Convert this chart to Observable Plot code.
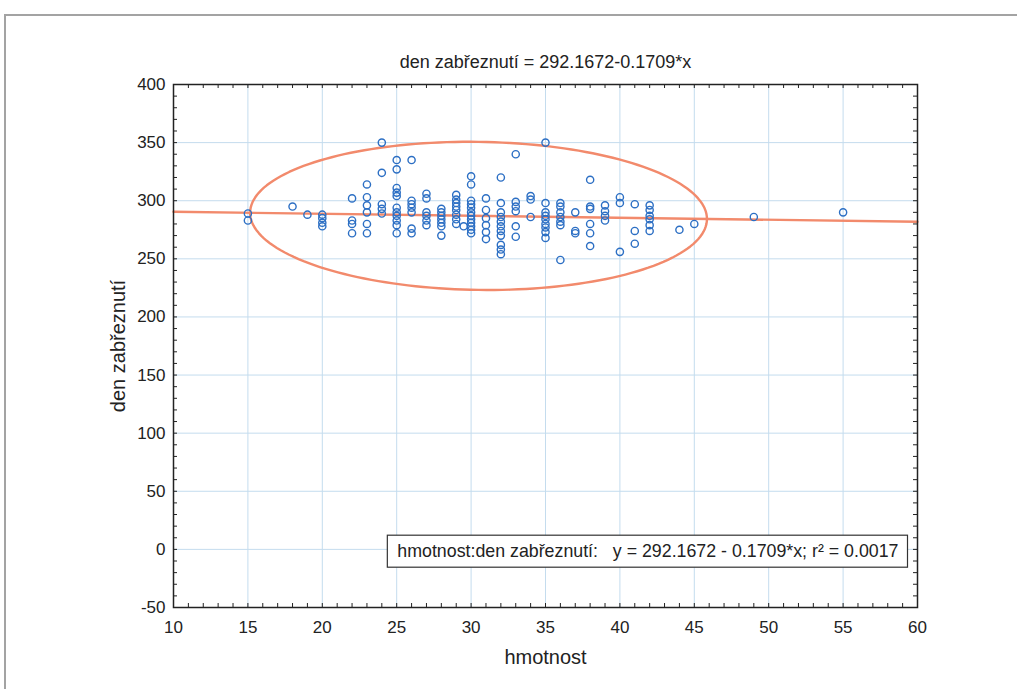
<!DOCTYPE html>
<html>
<head>
<meta charset="utf-8">
<script src="https://cdn.jsdelivr.net/npm/d3@7"></script>
<script src="https://cdn.jsdelivr.net/npm/@observablehq/plot@0.6"></script>
<style>
  html, body { margin: 0; padding: 0; background: #fff; overflow: hidden; }
  #wrap { position: relative; width: 1017px; height: 689px; }
  #border { position: absolute; left: 4px; top: 14px; width: 1100px; height: 800px;
            border: 2px solid #a3a3a3; box-sizing: border-box; }
  #chart { position: absolute; left: 0; top: 0; }
  svg text { font-family: "Liberation Sans", Arial, sans-serif; }
</style>
</head>
<body>
<div id="wrap"><div id="border"></div><div id="chart"></div></div>
<script>
// Body weight (hmotnost) and day of conception (den zabřeznutí), one entry per animal
const hmotnost = [
  15, 15,
  18,
  19,
  20, 20, 20, 20,
  22, 22, 22, 22,
  23, 23, 23, 23, 23, 23,
  24, 24, 24, 24, 24,
  25, 25, 25, 25, 25, 25, 25, 25, 25, 25, 25,
  26, 26, 26, 26, 26, 26, 26,
  27, 27, 27, 27, 27, 27,
  28, 28, 28, 28, 28, 28, 28,
  29, 29, 29, 29, 29, 29, 29, 29,
  29.5,
  30, 30, 30, 30, 30, 30, 30, 30, 30, 30, 30, 30,
  31, 31, 31, 31, 31, 31,
  32, 32, 32, 32, 32, 32, 32, 32, 32, 32, 32,
  33, 33, 33, 33, 33, 33,
  34, 34, 34,
  35, 35, 35, 35, 35, 35, 35, 35, 35,
  36, 36, 36, 36, 36, 36, 36,
  37, 37, 37,
  38, 38, 38, 38, 38, 38,
  39, 39, 39, 39,
  40, 40, 40,
  41, 41, 41,
  42, 42, 42, 42, 42, 42,
  44,
  45,
  49,
  55
];
const denZabreznuti = [
  289, 283,
  295,
  288,
  288, 285, 281, 278,
  302, 283, 280, 272,
  314, 303, 296, 290, 280, 272,
  350, 324, 297, 293, 289,
  335, 327, 311, 307, 304, 294, 290, 287, 283, 279, 272,
  335, 300, 297, 294, 290, 276, 272,
  306, 302, 290, 287, 283, 279,
  293, 290, 287, 284, 281, 278, 270,
  305, 301, 298, 295, 292, 288, 284, 280,
  278,
  321, 314, 300, 297, 294, 290, 287, 284, 281, 278, 275, 272,
  302, 292, 285, 279, 273, 267,
  320, 298, 290, 286, 282, 278, 274, 270, 262, 258, 254,
  340, 299, 295, 291, 278, 269,
  304, 301, 286,
  350, 298, 290, 287, 284, 280, 277, 273, 268,
  298, 295, 290, 286, 282, 279, 249,
  290, 274, 272,
  318, 295, 293, 280, 272, 261,
  296, 291, 287, 283,
  303, 298, 256,
  297, 274, 263,
  296, 292, 287, 284, 279, 274,
  275,
  280,
  286,
  290
];

// Fitted regression: y = intercept + slope * x
const intercept = 292.1672;
const slope = -0.1709;
const r2 = 0.0017;

// 95% ellipse: centre on the fit line, half-widths in x and y
const ellipseCx = 30.5;
const ellipseRx = 15.35;
const ellipseRy = 63.7;

// Axis ticks
const xTicks = [10, 15, 20, 25, 30, 35, 40, 45, 50, 55, 60];
const yTicks = [-50, 0, 50, 100, 150, 200, 250, 300, 350, 400];
const xMinor = d3.range(10, 61, 1);
const yMinor = d3.range(-50, 401, 10);

const points = hmotnost.map((x, i) => ({x, y: denZabreznuti[i]}));
const fitLine = [10, 60].map(x => ({x, y: intercept + slope * x}));
const ellipseCy = intercept + slope * ellipseCx;
const ellipse = d3.range(0, 360, 2).map(deg => {
  const t = deg * Math.PI / 180;
  const dx = ellipseRx * Math.cos(t);
  return {x: ellipseCx + dx, y: ellipseCy + ellipseRy * Math.sin(t) + slope * dx};
});

const W = 1017, H = 689;
const mL = 173, mR = 100, mT = 84, mB = 82;
const fw = W - mL - mR, fh = H - mT - mB;
const tick = 4;
const gridColor = "#c4dcee";
const fitColor = "#f28a6c";
const dotColor = "#2c6fc4";
const textColor = "#222";

const fmt = d => d < 0 ? "-" + Math.abs(d) : String(d);
const legendLabel = "hmotnost:den zabřeznutí:   y = " + intercept + " - " + Math.abs(slope) + "*x; r² = " + r2.toFixed(4);

const chart = Plot.plot({
  width: W,
  height: H,
  marginLeft: mL,
  marginRight: mR,
  marginTop: mT,
  marginBottom: mB,
  style: {fontFamily: "Liberation Sans, Arial, sans-serif", fontSize: "17px", color: textColor, background: "transparent"},
  x: {domain: [10, 60]},
  y: {domain: [-50, 400]},
  marks: [
    Plot.gridX(xTicks.slice(1, -1), {stroke: gridColor, strokeOpacity: 1, strokeWidth: 1}),
    Plot.gridY(yTicks.slice(1, -1), {stroke: gridColor, strokeOpacity: 1, strokeWidth: 1}),
    // inward minor ticks on all four sides
    Plot.tickX(xMinor, {x: d => d, insetTop: fh - tick, stroke: textColor}),
    Plot.tickX(xMinor, {x: d => d, insetBottom: fh - tick, stroke: textColor}),
    Plot.tickY(yMinor, {y: d => d, insetRight: fw - tick, stroke: textColor}),
    Plot.tickY(yMinor, {y: d => d, insetLeft: fw - tick, stroke: textColor}),
    Plot.axisX(xTicks, {tickSize: 0, tickPadding: 13, fontSize: 17, label: null, tickFormat: fmt}),
    Plot.axisY(yTicks, {tickSize: 0, tickPadding: 8, fontSize: 17, label: null, tickFormat: fmt}),
    Plot.line(ellipse, {x: "x", y: "y", curve: "linear-closed", stroke: fitColor, strokeWidth: 2.4}),
    Plot.line(fitLine, {x: "x", y: "y", stroke: fitColor, strokeWidth: 2.4}),
    Plot.dot(points, {x: "x", y: "y", r: 3.6, stroke: dotColor, strokeWidth: 1.4, fill: "none"}),
    Plot.frame({stroke: textColor, strokeWidth: 1.5}),
    Plot.text(["den zabřeznutí = " + intercept + "-" + Math.abs(slope) + "*x"],
      {text: d => d, frameAnchor: "top", lineAnchor: "middle", dy: -22, fontSize: 18, fill: textColor}),
    Plot.text(["hmotnost"], {text: d => d, frameAnchor: "bottom", textAnchor: "middle", lineAnchor: "middle", dy: 50, fontSize: 20, fill: textColor}),
    Plot.text(["den zabřeznutí"], {text: d => d, frameAnchor: "left", textAnchor: "middle", lineAnchor: "middle", dx: -55, rotate: -90, fontSize: 20, fill: textColor}),
    Plot.text([legendLabel],
      {text: d => d, frameAnchor: "bottom-right", textAnchor: "end", lineAnchor: "middle", dx: -19, dy: -56, fontSize: 17.8, fill: textColor})
  ]
});

document.getElementById("chart").appendChild(chart);

// white box with a thin outline behind the fit legend
const legendText = Array.from(chart.querySelectorAll("text")).find(t => t.textContent === legendLabel);
if (legendText) {
  const b = legendText.getBBox();
  const rect = document.createElementNS("http://www.w3.org/2000/svg", "rect");
  rect.setAttribute("x", b.x - 10);
  rect.setAttribute("y", b.y - 6);
  rect.setAttribute("width", b.width + 19);
  rect.setAttribute("height", b.height + 12);
  rect.setAttribute("fill", "#fff");
  rect.setAttribute("stroke", "#333");
  rect.setAttribute("stroke-width", "1.2");
  const tr = legendText.getAttribute("transform");
  if (tr) rect.setAttribute("transform", tr);
  legendText.parentNode.insertBefore(rect, legendText);
}
</script>
</body>
</html>
